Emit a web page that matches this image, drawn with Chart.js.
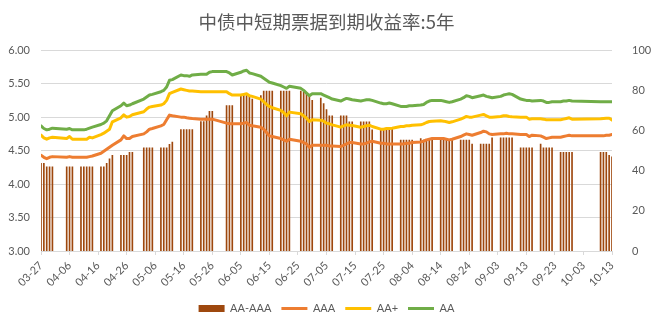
<!DOCTYPE html>
<html>
<head>
<meta charset="utf-8">
<script src="https://cdn.jsdelivr.net/npm/chart.js@4.4.1/dist/chart.umd.min.js"></script>
<style>
  body { margin: 0; background: #fff; }
  #wrap { width: 653px; height: 328px; position: relative; }
</style>
</head>
<body>
<div id="wrap"><canvas id="yieldChart"></canvas></div>
<script>
// 2023 trading days (MM-DD)
const tradeDates = [
  '03-27','03-28','03-29','03-30','03-31',
  '04-05','04-06','04-07',
  '04-10','04-11','04-12','04-13','04-14',
  '04-17','04-18','04-19','04-20','04-21',
  '04-24','04-25','04-26','04-27','04-28',
  '05-02','05-03','05-04','05-05',
  '05-08','05-09','05-10','05-11','05-12',
  '05-15','05-16','05-17','05-18','05-19',
  '05-22','05-23','05-24','05-25','05-26',
  '05-31','06-01','06-02',
  '06-05','06-06','06-07','06-08','06-09',
  '06-12','06-13','06-14','06-15','06-16',
  '06-19','06-20','06-21','06-22',
  '06-26','06-27','06-28','06-29','06-30',
  '07-03','07-04','07-05','07-06','07-07',
  '07-10','07-11','07-12','07-13','07-14',
  '07-17','07-18','07-19','07-20','07-21',
  '07-24','07-25','07-26','07-27','07-28',
  '07-31','08-01','08-02','08-03','08-04',
  '08-07','08-08','08-09','08-10','08-11',
  '08-14','08-15','08-16','08-17','08-18',
  '08-21','08-22','08-23','08-24','08-25',
  '08-28','08-29','08-30','08-31','09-01',
  '09-04','09-05','09-06','09-07','09-08',
  '09-11','09-12','09-13','09-14','09-15',
  '09-18','09-19','09-20','09-21','09-22',
  '09-25','09-26','09-27','09-28','09-29',
  '10-09','10-10','10-11','10-12','10-13'
];

// AA-AAA spread, bp (right axis)
const spread = [
  43.6,43.6,41.9,41.9,41.9,
  41.9,41.9,41.9,
  41.9,41.9,41.9,41.9,41.9,
  41.9,41.9,43.6,45.9,47.7,
  47.7,47.7,47.7,49.2,49.2,
  51.4,51.4,51.4,51.4,
  51.4,51.4,51.4,53.1,54.3,
  60.5,60.5,60.5,60.5,60.5,
  64.5,64.5,67.3,69.5,69.5,
  72.4,72.4,72.4,
  77.0,77.9,77.4,77.4,75.7,
  77.4,79.6,79.6,79.6,79.6,
  79.6,79.6,79.6,79.6,
  79.6,79.0,78.0,77.0,75.0,
  76.2,73.4,70.4,67.3,67.3,
  67.3,67.3,67.3,64.3,64.3,
  64.3,64.3,64.3,64.3,60.3,
  60.8,60.8,60.8,60.8,60.8,
  55.3,55.3,55.3,55.3,55.3,
  56.0,55.3,55.3,55.3,55.3,
  55.3,55.3,55.3,55.3,55.3,
  55.3,55.3,55.3,55.3,53.3,
  53.3,53.3,53.3,53.3,56.4,
  56.4,56.4,56.4,56.4,56.4,
  51.4,51.4,51.4,51.4,51.4,
  53.3,51.4,51.4,51.4,51.4,
  49.2,49.2,49.2,49.2,49.2,
  49.2,49.2,49.2,47.7,46.9
];

const aaa = [
  4.43,4.40,4.38,4.40,4.41,
  4.40,4.41,4.40,
  4.40,4.40,4.40,4.41,4.42,
  4.46,4.49,4.52,4.55,4.58,
  4.66,4.72,4.68,4.68,4.71,
  4.75,4.78,4.82,4.83,
  4.87,4.89,4.96,5.03,5.02,
  5.00,5.00,4.99,4.985,4.98,
  4.97,4.97,4.97,4.97,4.97,
  4.91,4.90,4.90,
  4.90,4.91,4.92,4.88,4.87,
  4.85,4.82,4.77,4.72,4.71,
  4.68,4.66,4.64,4.67,
  4.64,4.62,4.60,4.55,4.58,
  4.58,4.58,4.58,4.57,4.57,
  4.56,4.58,4.60,4.62,4.62,
  4.60,4.60,4.61,4.63,4.64,
  4.61,4.61,4.60,4.60,4.60,
  4.60,4.60,4.61,4.61,4.62,
  4.63,4.64,4.66,4.67,4.68,
  4.68,4.68,4.67,4.66,4.67,
  4.71,4.73,4.75,4.74,4.73,
  4.77,4.79,4.78,4.75,4.74,
  4.75,4.75,4.76,4.75,4.75,
  4.74,4.74,4.74,4.71,4.73,
  4.72,4.70,4.68,4.69,4.70,
  4.70,4.71,4.72,4.73,4.72,
  4.72,4.72,4.73,4.73,4.74
];

const aaPlus = [
  4.73,4.69,4.67,4.69,4.70,
  4.68,4.71,4.67,
  4.67,4.67,4.67,4.70,4.69,
  4.74,4.76,4.79,4.82,4.93,
  4.99,5.035,5.00,5.01,5.035,
  5.08,5.12,5.15,5.16,
  5.18,5.20,5.25,5.35,5.37,
  5.42,5.41,5.40,5.39,5.39,
  5.38,5.38,5.38,5.38,5.38,
  5.38,5.35,5.33,
  5.33,5.34,5.35,5.32,5.31,
  5.27,5.23,5.19,5.16,5.14,
  5.10,5.07,5.02,5.075,
  5.05,5.02,4.985,4.935,4.96,
  4.955,4.94,4.91,4.90,4.885,
  4.85,4.87,4.885,4.88,4.875,
  4.85,4.86,4.87,4.88,4.86,
  4.82,4.82,4.83,4.83,4.835,
  4.86,4.86,4.87,4.87,4.88,
  4.885,4.90,4.92,4.935,4.94,
  4.945,4.94,4.93,4.92,4.93,
  4.97,4.99,5.01,5.00,5.00,
  5.03,5.04,5.02,5.00,5.00,
  5.01,5.02,5.02,5.01,5.005,
  5.00,5.00,5.00,4.97,4.975,
  4.975,4.97,4.96,4.96,4.96,
  4.96,4.97,4.98,4.99,4.97,
  4.975,4.98,4.985,4.985,4.955
];

const aa = [
  4.87,4.83,4.81,4.82,4.835,
  4.82,4.83,4.81,
  4.81,4.81,4.82,4.835,4.85,
  4.89,4.91,4.945,5.02,5.095,
  5.17,5.21,5.17,5.18,5.20,
  5.27,5.30,5.33,5.34,
  5.38,5.40,5.45,5.55,5.56,
  5.63,5.62,5.62,5.61,5.63,
  5.64,5.64,5.64,5.67,5.68,
  5.68,5.66,5.63,
  5.67,5.69,5.70,5.66,5.65,
  5.61,5.58,5.55,5.52,5.51,
  5.47,5.45,5.43,5.46,
  5.43,5.40,5.36,5.32,5.35,
  5.35,5.33,5.31,5.29,5.27,
  5.24,5.26,5.28,5.27,5.26,
  5.24,5.25,5.26,5.26,5.25,
  5.21,5.20,5.20,5.21,5.20,
  5.16,5.16,5.16,5.17,5.17,
  5.18,5.19,5.22,5.24,5.25,
  5.25,5.24,5.23,5.22,5.23,
  5.27,5.29,5.32,5.31,5.29,
  5.32,5.33,5.31,5.30,5.29,
  5.31,5.33,5.34,5.35,5.34,
  5.27,5.26,5.25,5.25,5.24,
  5.25,5.24,5.22,5.22,5.23,
  5.23,5.24,5.24,5.25,5.24,
  5.23,5.23,5.23,5.23,5.23
];

const xTickLabels = ['03-27','04-06','04-16','04-26','05-06','05-16','05-26','06-05','06-15','06-25',
  '07-05','07-15','07-25','08-04','08-14','08-24','09-03','09-13','09-23','10-03','10-13'];
const leftTicks = [3.0, 6.0, 0.5];   // min, max, step
const rightTicks = [0, 100, 20];

// day offset from 03-27
function dayIndex(md) {
  const [m, d] = md.split('-').map(Number);
  return Math.round((Date.UTC(2023, m - 1, d) - Date.UTC(2023, 2, 27)) / 86400000);
}

function points(values) {
  return tradeDates.map((md, i) => ({ x: dayIndex(md), y: values[i] }));
}

const textColor = '#595959';
const gridColor = '#D9D9D9';
Chart.defaults.font.family = 'Lato, "Noto Sans CJK SC", sans-serif';
Chart.defaults.color = textColor;

function lineSet(label, values, color) {
  return {
    type: 'line', label, data: points(values), yAxisID: 'y',
    borderColor: color, backgroundColor: color, borderWidth: 3,
    pointRadius: 0, tension: 0, borderJoinStyle: 'round', borderCapStyle: 'round', order: 0
  };
}

const ctx = document.getElementById('yieldChart').getContext('2d');
const yieldChart = new Chart(ctx, {
  type: 'bar',
  data: {
    datasets: [
      {
        type: 'bar', label: 'AA-AAA', data: points(spread), yAxisID: 'y1',
        backgroundColor: '#9E480E', barThickness: 1, order: 1
      },
      lineSet('AAA', aaa, '#ED7D31'),
      lineSet('AA+', aaPlus, '#FFC000'),
      lineSet('AA', aa, '#70AD47')
    ]
  },
  options: {
    responsive: true,
    maintainAspectRatio: false,
    animation: false,
    layout: { padding: { bottom: 4 } },
    plugins: {
      tooltip: { enabled: false },
      title: {
        display: true,
        text: '中债中短期票据到期收益率:5年',
        color: textColor,
        font: { family: '"Noto Sans CJK SC", sans-serif', size: 18.5, weight: 'normal' },
        padding: { top: 11, bottom: 17 }
      },
      legend: {
        position: 'bottom',
        labels: {
          usePointStyle: true,
          pointStyleWidth: 26,
          boxHeight: 7,
          padding: 10,
          color: textColor,
          font: { size: 11 },
          generateLabels: chart => {
            const items = Chart.defaults.plugins.legend.labels.generateLabels(chart);
            items.forEach(it => {
              const ds = chart.data.datasets[it.datasetIndex];
              if (ds.type === 'line') {
                it.pointStyle = 'line';
                it.lineWidth = 3;
                it.strokeStyle = ds.borderColor;
              } else {
                it.pointStyle = 'rect';
                it.lineWidth = 0;
                it.fillStyle = ds.backgroundColor;
              }
            });
            return items.sort((a, b) => a.datasetIndex - b.datasetIndex);
          }
        }
      }
    },
    scales: {
      x: {
        type: 'linear',
        min: 0,
        max: 200,
        offset: false,
        grid: { drawOnChartArea: false, drawTicks: true, tickLength: 4, color: gridColor, offset: false },
        border: { color: gridColor },
        ticks: {
          stepSize: 10,
          autoSkip: false,
          maxRotation: 45,
          minRotation: 45,
          padding: 4,
          font: { size: 11 },
          callback: v => xTickLabels[Math.round(v / 10)]
        },
        afterFit: s => { s.height = 42; }
      },
      y: {
        position: 'left',
        min: leftTicks[0],
        max: leftTicks[1],
        grid: { color: gridColor, drawTicks: false },
        border: { display: false },
        ticks: { stepSize: leftTicks[2], padding: 11, font: { size: 11 }, callback: v => v.toFixed(2) },
        afterFit: s => { s.width = 41; }
      },
      y1: {
        position: 'right',
        min: rightTicks[0],
        max: rightTicks[1],
        grid: { display: false },
        border: { display: false },
        ticks: { stepSize: rightTicks[2], padding: 12, font: { size: 11 } },
        afterFit: s => { s.width = 41; }
      }
    }
  }
});
</script>
</body>
</html>
